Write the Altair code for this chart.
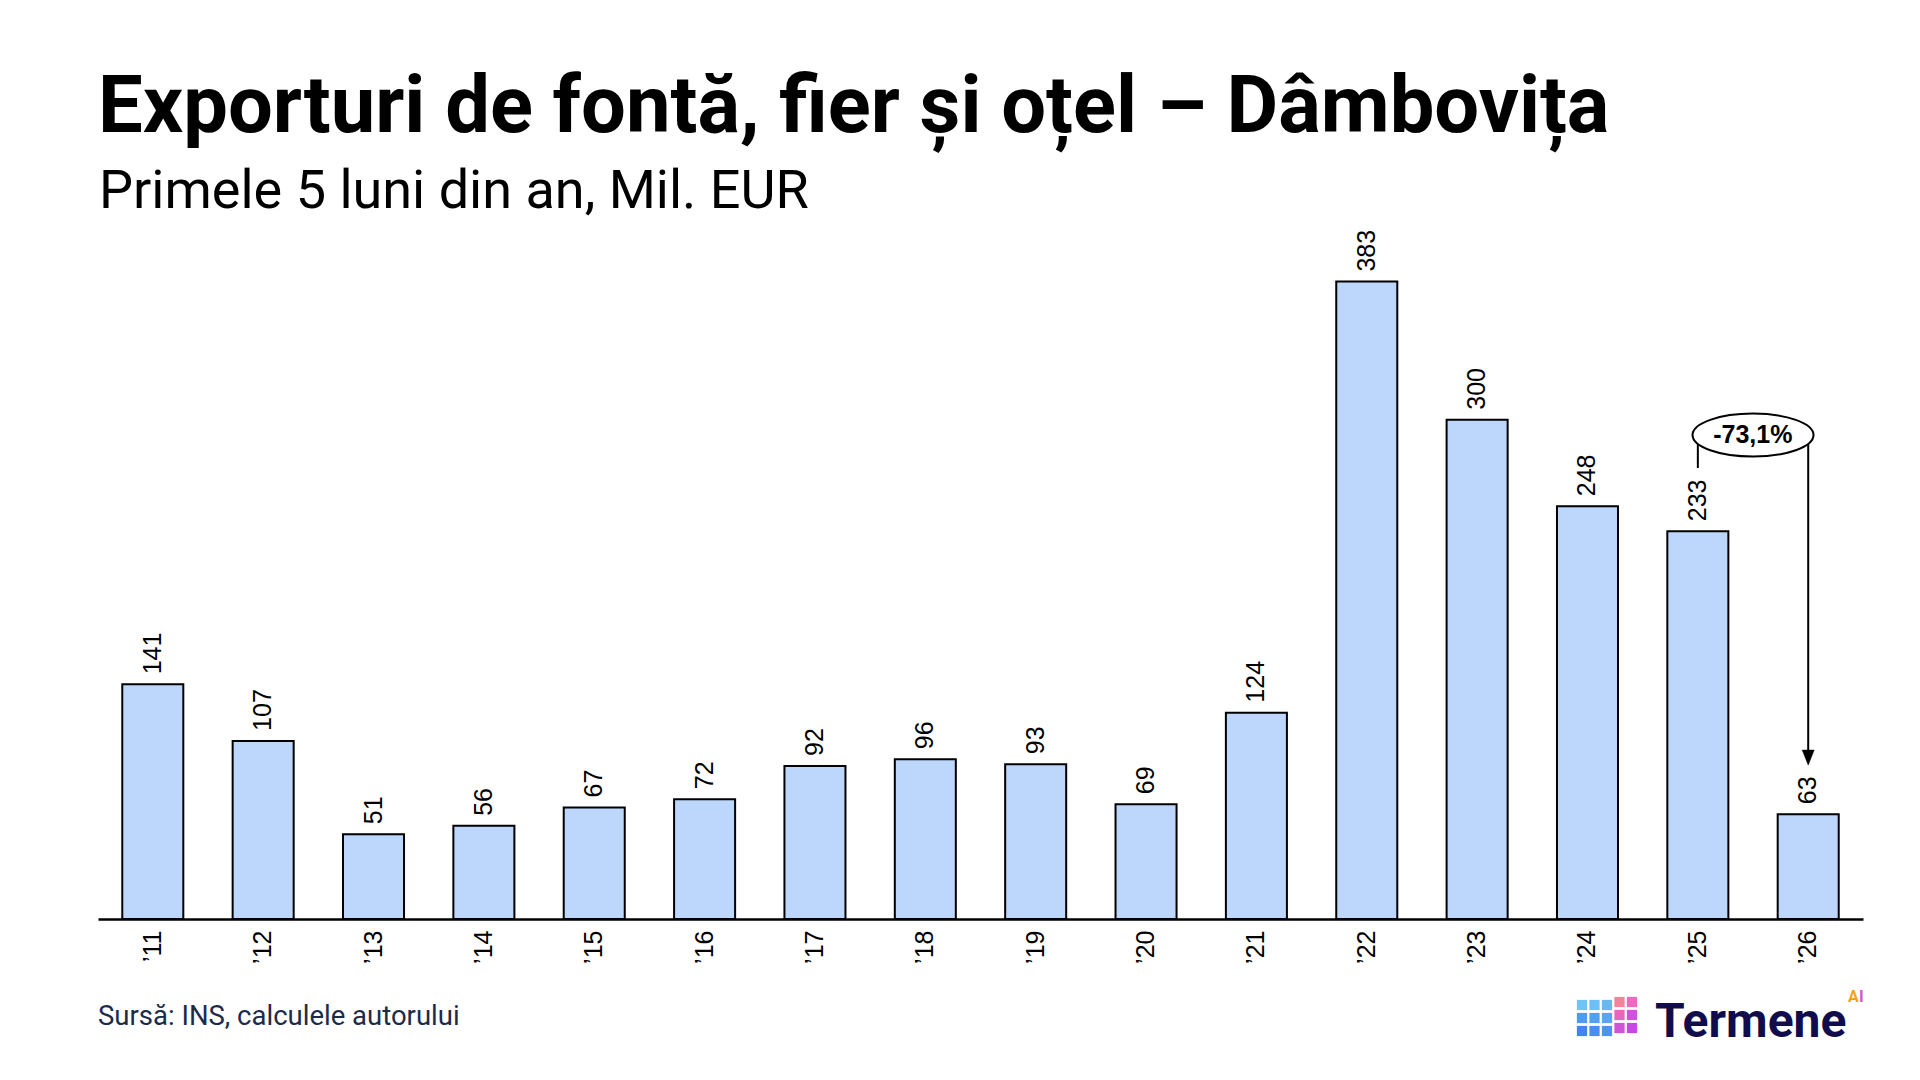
import altair as alt
import pandas as pd

# ---- data ----
years = ["’11", "’12", "’13", "’14", "’15", "’16", "’17", "’18",
         "’19", "’20", "’21", "’22", "’23", "’24", "’25", "’26"]
values = [141, 107, 51, 56, 67, 72, 92, 96, 93, 69, 124, 383, 300, 248, 233, 63]

title_text = "Exporturi de fontă, fier și oțel – Dâmbovița"
subtitle_text = "Primele 5 luni din an, Mil. EUR"
source_text = "Sursă: INS, calculele autorului"
change_label = "-73,1%"
change_from = "’25"
change_to = "’26"
# annotation levels (in data units, Mil. EUR)
oval_level = 290.8
left_line = [285.4, 271.0]
right_line = [285.4, 97.0]
arrow_level = 97.0

# ---- layout ----
W, H = 1765, 679
YMAX = 408
BAR_FILL = "#bdd7fc"
LABEL_FONT = "Liberation Sans"

df = pd.DataFrame({"year": years, "value": values})

xscale = alt.Scale(domain=years, paddingInner=0.447, paddingOuter=0.22)
yscale = alt.Scale(domain=[0, YMAX], nice=False, zero=True)

x_axis = alt.Axis(
    title=None, labelAngle=270, labelAlign="right", labelBaseline="middle",
    labelFont=LABEL_FONT, labelFontSize=25, labelColor="black",
    labelPadding=11, ticks=False, domainColor="black", domainWidth=2.5,
    grid=False,
)

X = alt.X("year:N", sort=years, scale=xscale, axis=x_axis)
Y = alt.Y("value:Q", scale=yscale, axis=None)

bars = alt.Chart(df).mark_bar(
    fill=BAR_FILL, stroke="black", strokeWidth=2
).encode(x=X, y=Y)

labels = alt.Chart(df).mark_text(
    angle=270, align="left", baseline="middle", dx=10,
    font=LABEL_FONT, fontSize=25, color="black"
).encode(x=X, y=Y, text="value:Q")

# ---- change annotation ----
oval_df = pd.DataFrame({"year": [change_from], "value": [oval_level], "label": [change_label]})
ellipse_path = "M-0.088,0A1,0.355,0,1,0,1.912,0A1,0.355,0,1,0,-0.088,0Z"
oval = alt.Chart(oval_df).mark_point(
    shape=ellipse_path, size=121 * 121, filled=True, fill="white",
    stroke="black", strokeWidth=2, opacity=1
).encode(x=X, y=Y)
oval_text = alt.Chart(oval_df).mark_text(
    dx=55, baseline="middle", align="center", font=LABEL_FONT,
    fontSize=25, fontWeight="bold", color="black"
).encode(x=X, y=Y, text="label:N")

lines_df = pd.DataFrame({
    "year": [change_from, change_to],
    "value": [left_line[0], right_line[0]],
    "value2": [left_line[1], right_line[1]],
})
lines = alt.Chart(lines_df).mark_rule(color="black", strokeWidth=2).encode(
    x=X, y=Y, y2="value2:Q"
)
arrow_df = pd.DataFrame({"year": [change_to], "value": [arrow_level]})
arrow = alt.Chart(arrow_df).mark_point(
    shape="M-0.8,-1L0.8,-1L0,1Z", size=225, filled=True, fill="black",
    stroke="black", strokeWidth=0.5, opacity=1
).encode(x=X, y=Y)

# ---- titles, source, logo ----
one = pd.DataFrame({"t": [0]})


def txt(text, x, y, size, weight="normal", color="black", font="Roboto", align="left"):
    return alt.Chart(one).mark_text(
        text=text, align=align, baseline="alphabetic", font=font,
        fontSize=size, fontWeight=weight, color=color
    ).encode(x=alt.value(x), y=alt.value(y))


title = txt(title_text, 0, -108, 79.5, "bold")
subtitle = txt(subtitle_text, 1, -32, 54)
source = txt(source_text, 0, 785, 27.5, color="#1c2b4a")
logo = txt("Termene", 1557, 797, 48, "bold", color="#110d4c")
logo_a = txt("A", 1750, 762, 16, "bold", color="#f6a019")
logo_i = txt("I", 1761, 762, 16, "bold", color="#d455d8")

# cube icon cells (column, row) -> colors
cube_cols = [0, 1, 2, 0, 1, 2, 0, 1, 2, 3, 4, 3, 4, 3, 4]
cube_rows = [0, 0, 0, 1, 1, 1, 2, 2, 2, 0, 0, 1, 1, 2, 2]
cube_colors = ["#6fc3f7", "#6cc0f6", "#67b9f5",
               "#4d9bf3", "#519ff3", "#57a6f4",
               "#3f86f0", "#458ff1", "#4b95f2",
               "#f3829a", "#ea6bc0", "#e666b9", "#d24fe0", "#d054d6", "#c44ae2"]
cube_df = pd.DataFrame({"c": cube_cols, "r": cube_rows, "color": cube_colors})
cube_df["px"] = 1484 + cube_df["c"] * 12.5
cube_df["py"] = 765 + cube_df["r"] * 13 - (cube_df["c"] >= 3) * 3
cube = alt.Chart(cube_df).mark_square(size=105, opacity=1, cornerRadius=2).encode(
    x=alt.X("px:Q", scale=None, axis=None),
    y=alt.Y("py:Q", scale=None, axis=None),
    color=alt.Color("color:N", scale=None, legend=None),
)

chart = alt.layer(
    bars, labels, lines, arrow, oval, oval_text,
    title, subtitle, source, logo, logo_a, logo_i, cube
).properties(
    width=W, height=H, autosize="none",
    padding={"left": 90, "top": 232, "right": 49, "bottom": 153},
    background="white",
).configure_view(strokeWidth=0)

chart.save("out.html", embed_options={"renderer": "svg", "actions": False})
